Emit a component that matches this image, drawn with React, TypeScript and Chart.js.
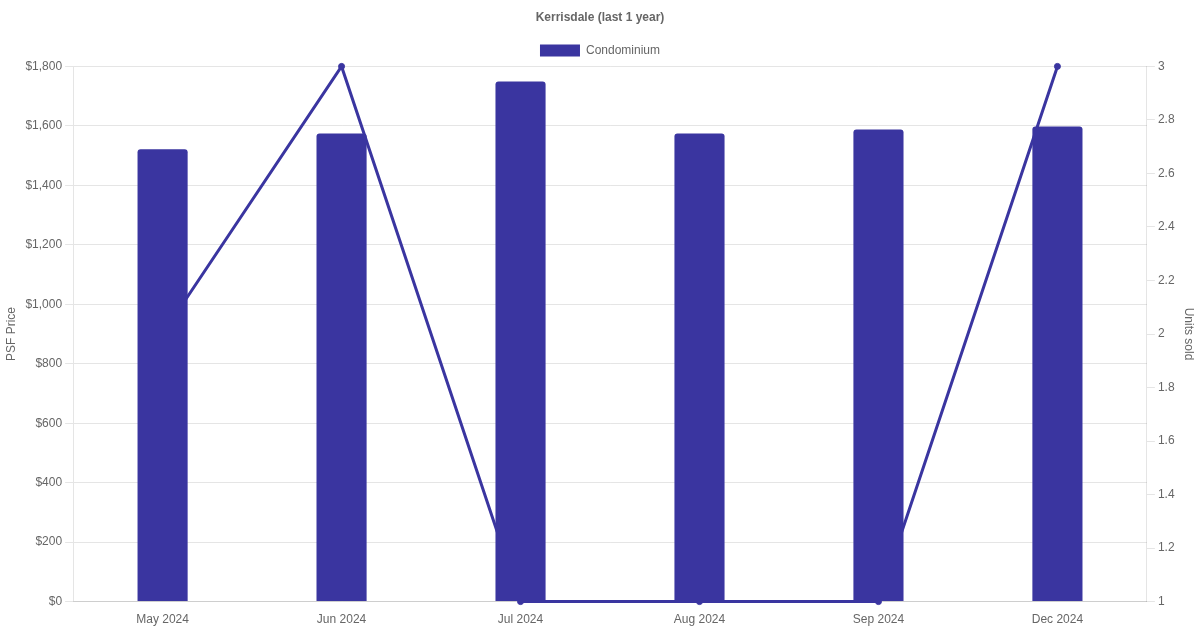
import React, { useEffect, useRef } from "react";
import { Chart, registerables } from "chart.js";

Chart.register(...registerables);

const categories = ["May 2024", "Jun 2024", "Jul 2024", "Aug 2024", "Sep 2024", "Dec 2024"];
const psfPrice = [1521, 1574, 1749, 1574, 1588, 1598];
const unitsSold = [2, 3, 1, 1, 1, 3];
const leftTicks = { min: 0, max: 1800, step: 200 };
const rightTicks = { min: 1, max: 3, step: 0.2 };

const COLOR = "#3a35a0";

export default function App() {
  const ref = useRef<HTMLCanvasElement | null>(null);
  useEffect(() => {
    document.body.style.margin = "0";
    Chart.defaults.font.family = "'Liberation Sans', Arial, Helvetica, sans-serif";
    Chart.defaults.color = "#666";
    const chart = new Chart(ref.current!, {
      type: "bar",
      data: {
        labels: categories,
        datasets: [
          {
            type: "bar",
            label: "Condominium",
            data: psfPrice,
            backgroundColor: COLOR,
            borderColor: COLOR,
            borderRadius: 3,
            borderSkipped: "bottom",
            barPercentage: 0.35,
            categoryPercentage: 0.8,
            yAxisID: "y",
          },
          {
            type: "line",
            label: "Units sold",
            data: unitsSold,
            borderColor: COLOR,
            backgroundColor: COLOR,
            borderWidth: 3,
            pointRadius: 3,
            pointBorderWidth: 1,
            tension: 0,
            fill: false,
            clip: false,
            yAxisID: "y1",
          },
        ],
      },
      options: {
        animation: false,
        responsive: false,
        plugins: {
          title: {
            display: true,
            text: "Kerrisdale (last 1 year)",
            color: "#666",
            font: { size: 12, weight: "bold" },
          },
          legend: {
            labels: {
              filter: (item: any) => item.datasetIndex === 0,
              font: { size: 12 },
              color: "#666",
            },
          },
          tooltip: { enabled: false },
        },
        scales: {
          x: {
            grid: { display: false },
            ticks: { font: { size: 12 }, color: "#666" },
          },
          y: {
            position: "left",
            min: leftTicks.min,
            max: leftTicks.max,
            ticks: {
              stepSize: leftTicks.step,
              font: { size: 12 },
              color: "#666",
              callback: (v: any) => "$" + Number(v).toLocaleString("en-US"),
            },
            title: { display: true, text: "PSF Price", font: { size: 12 }, color: "#666" },
            grid: { color: "rgba(0,0,0,0.1)" },
          },
          y1: {
            position: "right",
            min: rightTicks.min,
            max: rightTicks.max,
            ticks: {
              stepSize: rightTicks.step,
              font: { size: 12 },
              color: "#666",
              callback: (v: any) => String(Math.round(Number(v) * 10) / 10),
            },
            title: { display: true, text: "Units sold", font: { size: 12 }, color: "#666" },
            grid: { drawOnChartArea: false, color: "rgba(0,0,0,0.1)" },
          },
        },
      },
    } as any);
    return () => chart.destroy();
  }, []);
  return <canvas ref={ref} width={1200} height={630} style={{ display: "block", width: 1200, height: 630 }} />;
}
